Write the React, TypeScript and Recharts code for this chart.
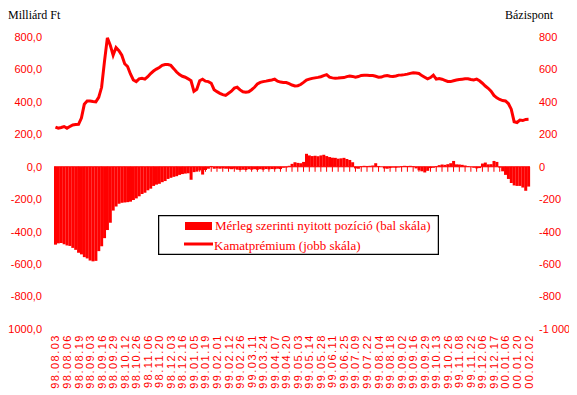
import React from "react";
import { Bar, ComposedChart, Legend, Line, ReferenceLine, XAxis, YAxis } from "recharts";

const tickLabels = [
  "98.08.03", "98.08.06", "98.08.19", "98.09.03", "98.09.16", "98.09.29", "98.10.12",
  "98.10.26", "98.11.06", "98.11.20", "98.12.03", "98.12.16", "99.01.05", "99.01.19",
  "99.02.01", "99.02.12", "99.02.26", "99.03.11", "99.03.24", "99.04.07", "99.04.20",
  "99.05.03", "99.05.14", "99.05.28", "99.06.11", "99.06.25", "99.07.09", "99.07.22",
  "99.08.04", "99.08.18", "99.09.02", "99.09.16", "99.09.29", "99.10.13", "99.10.26",
  "99.11.08", "99.11.22", "99.12.06", "99.12.17", "00.01.06", "00.01.20", "00.02.02",
];

// Mérleg szerinti nyitott pozíció, milliárd Ft (bal skála)
const merleg = [
  -480, -472, -470, -478, -485, -488, -500, -512, -530, -540,
  -557, -565, -578, -583, -580, -520, -490, -440, -390, -345,
  -270, -245, -228, -222, -220, -218, -215, -205, -195, -182,
  -168, -160, -145, -135, -118, -110, -105, -95, -88, -75,
  -68, -62, -58, -50, -45, -42, -40, -80, -33, -30,
  -22, -48, -20, -12, 5, -12, -10, -12, -10, -12,
  -12, -15, -12, -18, -20, -18, -20, -15, -18, -15,
  -18, -15, -18, -14, -16, -14, -15, -12, -14, -6,
  -4, 6, 18, 28, 24, 22, 30, 80, 70, 66,
  68, 65, 70, 74, 66, 60, 56, 55, 50, 52,
  55, 48, 42, 28, -10, -12, 4, 6, 5, 6,
  8, 22, 5, 0, -10, -12, -8, -5, -6, -4,
  4, 6, 5, 6, 4, -10, -22, -28, -35, -25,
  -8, -6, 4, 10, 14, 12, 16, 22, 36, 15,
  14, 12, 8, 4, 0, -6, -10, -8, 20, 26,
  15, 16, 36, 30, -5, -28, -50, -75, -100, -115,
  -118, -118, -128, -148, -122,
];

// Kamatprémium, bázispont (jobb skála)
const kamatpremium = [
  245, 238, 242, 248, 238, 248, 258, 260, 262, 300,
  385, 405, 406, 402, 400, 428, 490, 650, 795, 750,
  688, 735, 716, 688, 635, 618, 572, 535, 525, 542,
  545, 540, 555, 575, 590, 602, 612, 625, 630, 630,
  625, 605, 584, 568, 558, 552, 542, 530, 465, 478,
  530, 540, 528, 525, 515, 475, 463, 453, 445, 440,
  453, 466, 485, 490, 474, 462, 459, 462, 475, 490,
  510, 520, 525, 528, 532, 535, 540, 528, 522, 520,
  519, 512, 504, 498, 500, 507, 520, 534, 540, 545,
  548, 551, 555, 562, 568, 552, 548, 546, 547, 549,
  550, 556, 560, 557, 552, 556, 563, 564, 564, 563,
  562, 558, 552, 553, 560, 563, 558, 556, 560, 565,
  566, 568, 571, 576, 580, 578, 575, 562, 552, 542,
  550, 565, 540, 544, 540, 533, 526, 525, 530, 535,
  538, 540, 542, 543, 538, 535, 540, 530, 515, 498,
  484, 466, 440, 425, 415, 408, 406, 390, 355, 278,
  273, 288, 285, 292, 293,
];

const yTicks = [-1000, -800, -600, -400, -200, 0, 200, 400, 600, 800];

const data = merleg.map((m, i) => ({
  date: i % 4 === 0 ? tickLabels[i / 4] : "",
  merleg: m,
  premium: kamatpremium[i],
  tickMark: i % 2 === 0 ? 0 : null,
}));

const RED = "#FF0000";
const SANS = "'Liberation Sans', Arial, sans-serif";
const SERIF = "'Liberation Serif', 'Times New Roman', serif";

const DateTick = (props: any) => {
  const { x, y, payload } = props;
  if (!payload.value) return <g />;
  return (
    <text
      transform={`translate(${x + 4},${y + 5}) rotate(-90)`}
      textAnchor="end"
      fill={RED}
      fontSize={11}
      letterSpacing={1.5}
      fontFamily={SANS}
    >
      {payload.value}
    </text>
  );
};

const ZeroTick = (props: any) => {
  const { cx, cy, index, payload } = props;
  if (payload == null || payload.tickMark == null || cy == null) return <g key={index} />;
  return <line key={index} x1={cx} y1={cy} x2={cx} y2={cy + 5} stroke={RED} strokeWidth={1} />;
};

const LegendBox = () => (
  <svg width={281} height={40} style={{ display: "block" }}>
    <rect x={0.5} y={0.5} width={280} height={39} fill="#fff" stroke="#000" strokeWidth={1.5} />
    <rect x={27} y={7} width={27} height={8} fill={RED} />
    <text x={57} y={15} fill={RED} fontSize={13} fontFamily={SERIF}>
      Mérleg szerinti nyitott pozíció (bal skála)
    </text>
    <line x1={26} y1={29} x2={55} y2={29} stroke={RED} strokeWidth={3} />
    <text x={56} y={35} fill={RED} fontSize={13} fontFamily={SERIF}>
      Kamatprémium (jobb skála)
    </text>
  </svg>
);

const fmtLeft = (v: number) => v.toFixed(1).replace(".", ",");
const fmtRight = (v: number) => (v <= -1000 ? "-1\u00a0000" : String(v));

export default function App() {
  return (
    <div style={{ position: "relative", left: -8, top: -8, width: 577, height: 395 }}>
      <div style={{ position: "absolute", left: 8, top: 9, fontFamily: SERIF, fontSize: 12, lineHeight: "12px", color: "#000" }}>
        Milliárd Ft
      </div>
      <div style={{ position: "absolute", left: 505, top: 9, fontFamily: SERIF, fontSize: 12, lineHeight: "12px", color: "#000" }}>
        Bázispont
      </div>
      <ComposedChart
        width={577}
        height={395}
        data={data}
        margin={{ top: 37, right: 8, bottom: 8, left: 14 }}
        barCategoryGap={0}
        barGap={0}
      >
        <XAxis
          dataKey="date"
          interval={3}
          axisLine={false}
          tickLine={false}
          tickSize={0}
          tickMargin={0}
          height={58}
          tick={DateTick}
        />
        <YAxis
          yAxisId="left"
          domain={[-1000, 800]}
          ticks={yTicks}
          tickFormatter={fmtLeft}
          axisLine={false}
          tickLine={false}
          tickMargin={6}
          width={40}
          tick={{ fill: RED, fontSize: 11, fontFamily: SANS }}
        />
        <YAxis
          yAxisId="right"
          orientation="right"
          domain={[-1000, 800]}
          ticks={yTicks}
          tickFormatter={fmtRight}
          axisLine={false}
          tickLine={false}
          tickMargin={3}
          width={39}
          tick={{ fill: RED, fontSize: 11, fontFamily: SANS }}
        />
        <Bar yAxisId="left" dataKey="merleg" name="Mérleg szerinti nyitott pozíció (bal skála)" fill={RED} isAnimationActive={false} />
        <ReferenceLine yAxisId="left" y={0} stroke={RED} strokeWidth={1} />
        <Line
          yAxisId="left"
          dataKey="tickMark"
          stroke="none"
          dot={ZeroTick}
          activeDot={false}
          legendType="none"
          isAnimationActive={false}
        />
        <Line
          yAxisId="right"
          dataKey="premium"
          name="Kamatprémium (jobb skála)"
          type="linear"
          stroke={RED}
          strokeWidth={3}
          dot={false}
          isAnimationActive={false}
        />
        <Legend
          layout="horizontal"
          verticalAlign="middle"
          align="center"
          content={LegendBox}
          wrapperStyle={{ left: 158, top: 215, width: 281, height: 40 }}
        />
      </ComposedChart>
    </div>
  );
}
